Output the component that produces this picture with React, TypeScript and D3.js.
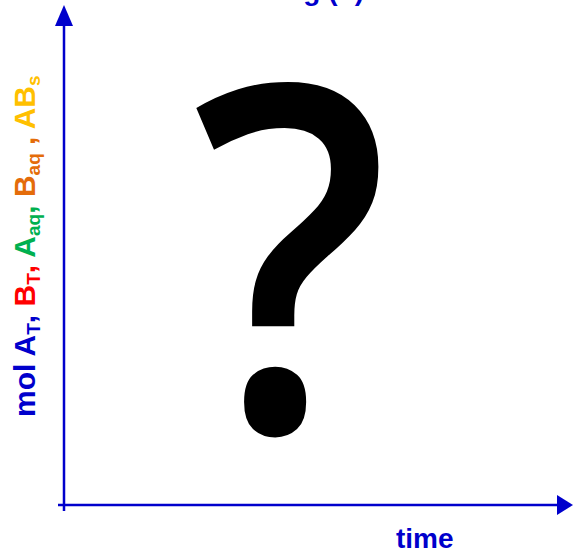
import React from "react";
import * as d3 from "d3";

const W = 573;
const H = 553;

const xAxisLabel = "time";
const titleText = "g (?)";
const mysteryMark = "?";

// y label parts: [main text, subscript, trailing, colour]
const yLabelParts: [string, string, string, string][] = [
  ["mol A", "T", ", ", "#0000CC"],
  ["B", "T", ", ", "#FF0000"],
  ["A", "aq", ", ", "#00B050"],
  ["B", "aq", " , ", "#E46C0A"],
  ["AB", "s", "", "#FFC000"],
];

const xDomain = [0, 1];
const yDomain = [0, 1];

const AXIS = "#0000CC";

export default function App() {
  const x = d3.scaleLinear().domain(xDomain).range([64, 557]);
  const y = d3.scaleLinear().domain(yDomain).range([505, 26]);
  const x0 = x(0);
  const y0 = y(0);
  const xEnd = x(1);
  const yEnd = y(1);
  const headH = 21;
  const headW = 10;

  return (
    <svg
      width={W}
      height={H}
      style={{ position: "absolute", left: 0, top: 0, background: "#fff" }}
      fontFamily="'Liberation Sans', Arial, sans-serif"
    >
      {/* axes */}
      <line x1={x0} y1={y0 + 6} x2={x0} y2={yEnd} stroke={AXIS} strokeWidth={2.5} />
      <line x1={x0 - 6} y1={y0} x2={xEnd} y2={y0} stroke={AXIS} strokeWidth={2.5} />
      <path
        d={`M${x0},${yEnd - headH} L${x0 - 9},${yEnd} L${x0 + 9},${yEnd} Z`}
        fill={AXIS}
      />
      <path
        d={`M${xEnd + 16},${y0} L${xEnd},${y0 - headW} L${xEnd},${y0 + headW} Z`}
        fill={AXIS}
      />

      {/* title (cut off at top) */}
      <text x={364} y={0} textAnchor="end" fontSize={28} fontWeight="bold" fill={AXIS}>
        {titleText}
      </text>

      {/* x label */}
      <text x={396} y={548} fontSize={28} fontWeight="bold" fill={AXIS}>
        {xAxisLabel}
      </text>

      {/* y label */}
      <text
        transform={`translate(35,417) rotate(-90)`}
        fontSize={30}
        fontWeight="bold"
      >
        {yLabelParts.map(([main, sub, trail, col], i) => (
          <React.Fragment key={i}>
            <tspan fill={col}>{main}</tspan>
            <tspan fill={col} fontSize={19} dy={5}>
              {sub}
            </tspan>
            <tspan fill={col} dy={-5}>
              {trail}
            </tspan>
          </React.Fragment>
        ))}
      </text>

      {/* big question mark */}
      <text
        transform={`translate(291,431) scale(0.9,1)`}
        textAnchor="middle"
        fontSize={482}
        fontWeight={600}
        fontFamily="'Open Sans', sans-serif"
        fill="#000"
      >
        {mysteryMark}
      </text>
    </svg>
  );
}
